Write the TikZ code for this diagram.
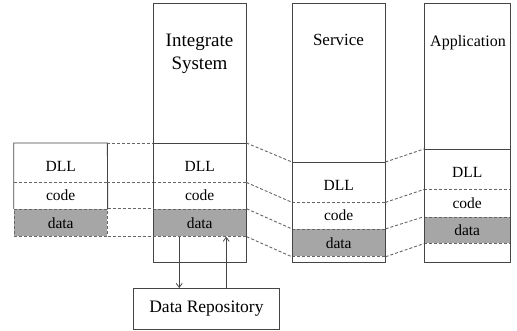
\documentclass[tikz,border=0pt]{standalone}
\usepackage{fontspec}
\setmainfont{Liberation Serif}
\usetikzlibrary{positioning,arrows.meta}
\definecolor{edgegray}{HTML}{454545}
\definecolor{dashgray}{HTML}{666666}
\definecolor{datagray}{HTML}{A6A6A6}

\tikzset{
    column/.style={draw=edgegray, line width=0.9pt, minimum height=259pt, inner sep=0pt, anchor=north west},
    sepline/.style={draw=dashgray, line width=0.9pt, dash pattern=on 3pt off 2pt},
    link/.style={sepline},
    cell/.style={inner sep=0pt, font=\fontsize{15.5}{18}\selectfont},
    dllcell/.style={cell, anchor=north west, text height=17pt},
    datacell/.style={cell, fill=datagray, sepline},
    title/.style={align=center, inner sep=0pt},
    flow/.style={draw=edgegray, line width=0.8pt, -{Straight Barb[length=4pt, width=6pt]}},
}

\begin{document}
\begin{tikzpicture}[x=1pt, y=-1pt]
\useasboundingbox (0,0) rectangle (517,331);

    \node[dllcell, minimum width=93pt, minimum height=39pt] (ldll) at (14,143) {DLL};
    \node[cell, minimum width=93pt, minimum height=26pt, below=0pt of ldll] (lcode) {code};
    \node[datacell, minimum width=93pt, minimum height=27pt, below=0pt of lcode] (ldata) {data};
    \draw[edgegray, line width=0.9pt] (ldata.north west) |- (ldll.north east) -- (ldata.north east);
    \draw[sepline] (ldll.south west) -- (ldll.south east);

    \node[dllcell, minimum width=93pt, minimum height=39pt] (idll) at (153,143) {DLL};
    \node[cell, minimum width=93pt, minimum height=26pt, below=0pt of idll] (icode) {code};
    \node[datacell, minimum width=93pt, minimum height=27pt, below=0pt of icode] (idata) {data};
    \draw[edgegray, line width=0.9pt] (idll.north west) -- (idll.north east);
    \draw[sepline] (idll.south west) -- (idll.south east);
    \node[column, minimum width=93pt] (isys) at (153,3) {};
    \node[title, font=\fontsize{19}{23}\selectfont] (ititle) at (199.5,54) {Integrate\\System};

    \node[dllcell, minimum width=93pt, minimum height=40pt] (sdll) at (292,162) {DLL};
    \node[cell, minimum width=93pt, minimum height=26pt, below=0pt of sdll] (scode) {code};
    \node[datacell, minimum width=93pt, minimum height=27pt, below=0pt of scode] (sdata) {data};
    \draw[edgegray, line width=0.9pt] (sdll.north west) -- (sdll.north east);
    \draw[sepline] (sdll.south west) -- (sdll.south east);
    \node[column, minimum width=93pt] (serv) at (292,3) {};
    \node[title, font=\fontsize{17}{20}\selectfont] (stitle) at (338.5,39.5) {Service};

    \node[dllcell, minimum width=86pt, minimum height=40pt] (adll) at (424,149) {DLL};
    \node[cell, minimum width=86pt, minimum height=27pt, below=0pt of adll] (acode) {code};
    \node[datacell, minimum width=86pt, minimum height=26pt, below=0pt of acode] (adata) {data};
    \draw[edgegray, line width=0.9pt] (adll.north west) -- (adll.north east);
    \draw[sepline] (adll.south west) -- (adll.south east);
    \node[column, minimum width=86pt] (appl) at (424,3) {};
    \node[title, font=\fontsize{16}{19}\selectfont] (atitle) at (468,42.5) {Application};

    \foreach \p/\q in {l/i, i/s, s/a} {
        \draw[link] (\p dll.north east) -- (\q dll.north west);
        \draw[link] (\p dll.south east) -- (\q dll.south west);
        \draw[link] (\p data.north east) -- (\q data.north west);
        \draw[link] (\p data.south east) -- (\q data.south west);
    }

    \node[draw=edgegray, line width=0.9pt, minimum width=146pt, minimum height=41pt, anchor=north west,
        font=\fontsize{17.5}{21}\selectfont] (repo) at (133,288) {Data Repository};
    \coordinate (down) at ([xshift=-20.5pt]idata.south);
    \coordinate (up) at ([xshift=26.5pt]idata.south);
    \draw[flow] (down) -- (down |- repo.north);
    \draw[flow] (up |- repo.north) -- (up);
\end{tikzpicture}
\end{document}
